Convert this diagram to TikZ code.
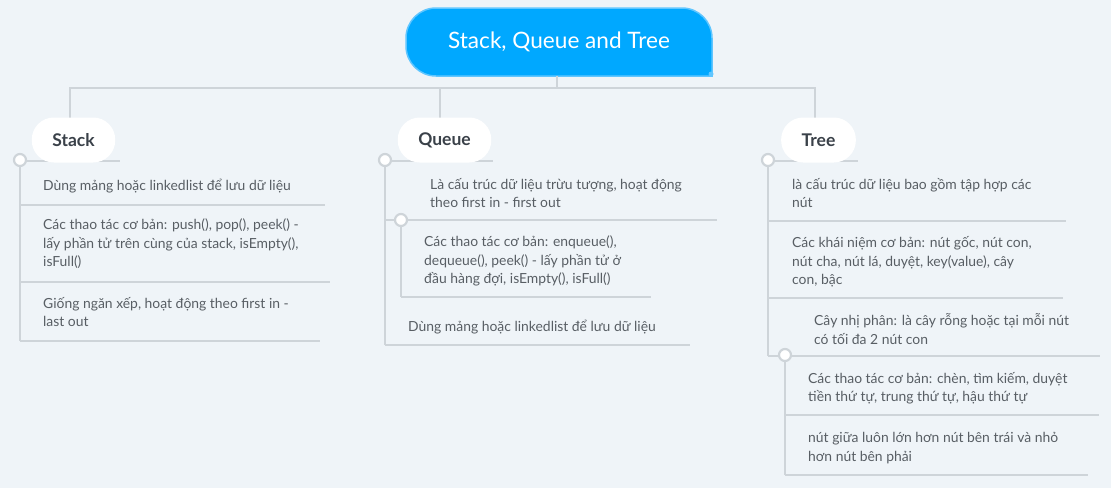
\documentclass[tikz,border=0pt]{standalone}
\usepackage{fontspec}
\setmainfont{Lato}
\usetikzlibrary{positioning}

\definecolor{bgcol}{RGB}{239,244,248}
\definecolor{linecol}{RGB}{206,212,217}
\definecolor{rootblue}{RGB}{0,168,255}
\definecolor{rootedge}{RGB}{96,198,255}
\definecolor{titlecol}{RGB}{58,65,73}
\definecolor{leafcol}{RGB}{88,94,100}

\tikzset{
  branch/.style={draw=linecol, line width=2.2pt},
  knob/.style={circle, fill=white, draw=linecol, line width=2.2pt, minimum size=12pt, inner sep=0pt},
  topic/.style={fill=white, rounded corners=22pt, minimum height=45pt, inner xsep=20.5pt,
    font=\bfseries\fontsize{17.5}{20}\selectfont, text=titlecol},
  leaf/.style={anchor=west, align=left, inner sep=0pt, font=\fontsize{13.9}{18.5}\selectfont, text=leafcol},
}

\begin{document}
\begin{tikzpicture}[x=1pt, y=-1pt]
	\path[use as bounding box, fill=bgcol] (0,0) rectangle (1111,488);
	% central topic
	\path[fill=rootblue, draw=rootedge, line width=1.5pt, rounded corners=30pt]
		(557,76) -- (406,76) -- (406,8) -- (712,8) [sharp corners] -- (712,76) -- cycle;
	\fill[rootedge] (711,74) circle (2.5pt);
	\node[text=white, font=\fontsize{22.6}{26}\selectfont] (root) at (559,42) {Stack, Queue and Tree};
	\coordinate (hub) at (557,88);
	\draw[branch] (557,76) -- (hub);
	\draw[branch] (hub) -| (70,121);
	\draw[branch] (hub) -| (440,121);
	\draw[branch] (hub) -| (815,121);

	% Stack
	\draw[branch] (20,161) -- (120,161);
	\node[topic] (stack) at (73.5,140) {Stack};
	\node[knob] (sk) at (20,160) {};
	\draw[branch] (sk) -- (20,341);
	\node[leaf] (s1) at (43,186) {Dùng mảng hoặc linkedlist để lưu dữ liệu};
	\draw[branch] (20,205) -- (325,205);
	\node[leaf] (s2) at (43,244) {Các thao tác cơ bản: push(), pop(), peek() -\\lấy phần tử trên cùng của stack, isEmpty(),\\isFull()};
	\draw[branch] (20,282) -- (330,282);
	\node[leaf] (s3) at (43,312) {Giống ngăn xếp, hoạt động theo first in -\\last out};
	\draw[branch] (20,341) -- (320,341);

	% Queue
	\draw[branch] (385,161) -- (493,161);
	\node[topic] (queue) at (444.5,140) {Queue};
	\node[knob] (qk) at (385,160) {};
	\draw[branch] (qk) -- (385,345);
	\node[leaf] (q1) at (430,193) {Là cấu trúc dữ liệu trừu tượng, hoạt động\\theo first in - first out};
	\draw[branch] (385,220) -- (717,220);
	\node[knob] (qk1) at (401,220) {};
	\draw[branch] (qk1) -- (401,297);
	\node[leaf] (q2) at (424,261) {Các thao tác cơ bản: enqueue(),\\dequeue(), peek() - lấy phần tử ở\\đầu hàng đợi, isEmpty(), isFull()};
	\draw[branch] (401,297) -- (651,297);
	\node[leaf] (q3) at (408,327) {Dùng mảng hoặc linkedlist để lưu dữ liệu};
	\draw[branch] (385,345) -- (690,345);

	% Tree
	\draw[branch] (768,161) -- (858,161);
	\node[topic] (tree) at (818.5,140) {Tree};
	\node[knob] (tk) at (768,160) {};
	\draw[branch] (tk) -- (768,356);
	\node[leaf] (t1) at (792,193) {là cấu trúc dữ liệu bao gồm tập hợp các\\nút};
	\draw[branch] (768,221) -- (1066,221);
	\node[leaf] (t2) at (792,262) {Các khái niệm cơ bản: nút gốc, nút con,\\nút cha, nút lá, duyệt, key(value), cây\\con, bậc};
	\draw[branch] (768,298) -- (1063,298);
	\node[leaf] (t3) at (814,329) {Cây nhị phân: là cây rỗng hoặc tại mỗi nút\\có tối đa 2 nút con};
	\draw[branch] (768,356) -- (1100,356);
	\node[knob] (tk3) at (785,355) {};
	\draw[branch] (tk3) -- (785,475);
	\node[leaf] (t4) at (808,388) {Các thao tác cơ bản: chèn, tìm kiếm, duyệt\\tiền thứ tự, trung thứ tự, hậu thứ tự};
	\draw[branch] (785,415) -- (1099,415);
	\node[leaf] (t5) at (808,448) {nút giữa luôn lớn hơn nút bên trái và nhỏ\\hơn nút bên phải};
	\draw[branch] (785,475) -- (1088,475);
\end{tikzpicture}
\end{document}
